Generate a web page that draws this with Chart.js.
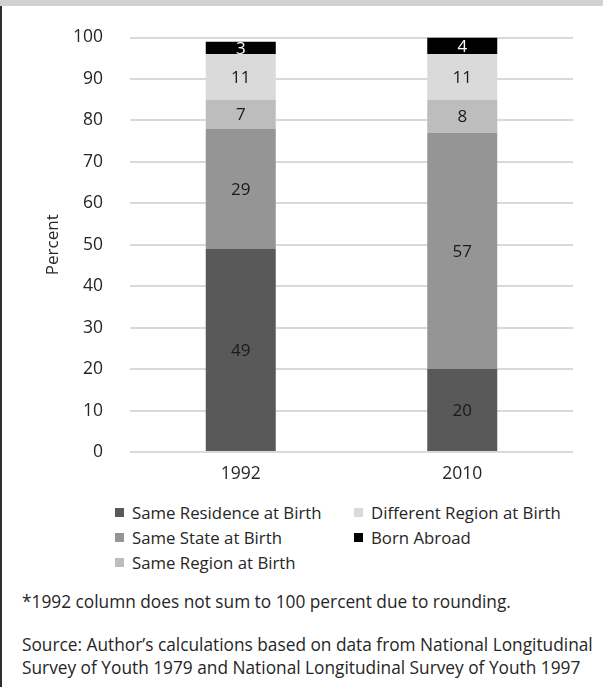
<!DOCTYPE html>
<html>
<head>
<meta charset="utf-8">
<script src="https://cdn.jsdelivr.net/npm/chart.js@4.4.1/dist/chart.umd.min.js"></script>
<style>
  body { margin: 0; background: #fff; font-family: "Open Sans", sans-serif; color: #262626; }
  #page { position: relative; width: 603px; height: 687px; overflow: hidden; }
  #topBand { position: absolute; left: 0; top: 0; width: 603px; height: 6px; background: #d1d2d4; }
  #leftLine { position: absolute; left: 0; top: 6px; width: 2px; height: 681px; background: #2e2e2e; }
  #chartBox { position: absolute; left: 0; top: 0; width: 603px; height: 490px; }
  #legend { position: absolute; left: 111px; top: 500px; display: grid; grid-template-rows: repeat(3, 25px);
            grid-auto-flow: column; grid-template-columns: 239px 240px; font-size: 16.8px; }
  .item { display: flex; align-items: center; white-space: nowrap; }
  .box { width: 9px; height: 9px; margin-right: 8px; margin-left: 4px; }
  #notes { position: absolute; left: 22px; top: 590px; font-size: 17.3px; line-height: 23px; }
  #notes p { margin: 0; }
</style>
</head>
<body>
<div id="page">
  <div id="chartBox"><canvas id="grafico"></canvas></div>
  <div id="topBand"></div>
  <div id="leftLine"></div>
  <div id="legend"></div>
  <div id="notes">
    <p>*1992 column does not sum to 100 percent due to rounding.</p>
    <p style="margin-top:20px">Source: Author’s calculations based on data from National Longitudinal</p>
    <p>Survey of Youth 1979 and National Longitudinal Survey of Youth 1997</p>
  </div>
</div>
<script>
// Dados
const anos = ["1992", "2010"];
const sameResidence = [49, 20];
const sameState = [29, 57];
const sameRegion = [7, 8];
const differentRegion = [11, 11];
const bornAbroad = [3, 4];
const yTicks = [0, 10, 20, 30, 40, 50, 60, 70, 80, 90, 100];

const fonte = '"Open Sans", sans-serif';

// Rótulos de valor no meio de cada segmento
const rotulos = {
  id: "rotulos",
  afterDatasetsDraw(chart) {
    const ctx = chart.ctx;
    chart.data.datasets.forEach((ds, i) => {
      chart.getDatasetMeta(i).data.forEach((bar, j) => {
        ctx.save();
        ctx.fillStyle = ds.labelColor;
        ctx.font = "17px " + fonte;
        ctx.textAlign = "center";
        ctx.textBaseline = "middle";
        ctx.fillText(ds.data[j], bar.x, (bar.y + bar.base) / 2 + 1);
        ctx.restore();
      });
    });
  },
};

const serie = (label, data, cor, corTexto) => ({
  label,
  data,
  backgroundColor: cor,
  labelColor: corTexto,
  borderWidth: 0,
  barPercentage: 0.316,
  categoryPercentage: 1,
});

const ctx = document.getElementById("grafico").getContext("2d");
const chart = new Chart(ctx, {
  type: "bar",
  data: {
    labels: anos,
    datasets: [
      serie("Same Residence at Birth", sameResidence, "#595959", "#1a1a1a"),
      serie("Same State at Birth", sameState, "#959595", "#1a1a1a"),
      serie("Same Region at Birth", sameRegion, "#bdbdbe", "#1a1a1a"),
      serie("Different Region at Birth", differentRegion, "#dadadb", "#1a1a1a"),
      serie("Born Abroad", bornAbroad, "#000000", "#ffffff"),
    ],
  },
  options: {
    responsive: true,
    maintainAspectRatio: false,
    animation: false,
    layout: { padding: { top: 29, right: 30, bottom: 0, left: 40 } },
    plugins: {
      legend: { display: false },
      tooltip: { enabled: false },
    },
    scales: {
      x: {
        stacked: true,
        afterFit: (axis) => { axis.height = 38; },
        grid: { display: false, drawTicks: false },
        border: { display: false },
        ticks: { color: "#262626", padding: 12, font: { family: fonte, size: 17.5 } },
      },
      y: {
        stacked: true,
        min: 0,
        max: 100,
        afterBuildTicks: (axis) => { axis.ticks = yTicks.map((v) => ({ value: v })); },
        afterFit: (axis) => { axis.width = 90; },
        grid: { color: "#d9d9d9", lineWidth: 2, drawTicks: false },
        border: { display: false },
        ticks: { color: "#262626", padding: 27, font: { family: fonte, size: 17.5 } },
        title: {
          display: true,
          text: "Percent",
          color: "#262626",
          padding: { top: 3, bottom: 10 },
          font: { family: fonte, size: 17 },
        },
      },
    },
  },
  plugins: [rotulos],
});

// Legenda em duas colunas
const legenda = document.getElementById("legend");
chart.data.datasets.forEach((ds) => {
  const item = document.createElement("div");
  item.className = "item";
  item.innerHTML = '<span class="box" style="background:' + ds.backgroundColor + '"></span>' + ds.label;
  legenda.appendChild(item);
});
</script>
</body>
</html>
